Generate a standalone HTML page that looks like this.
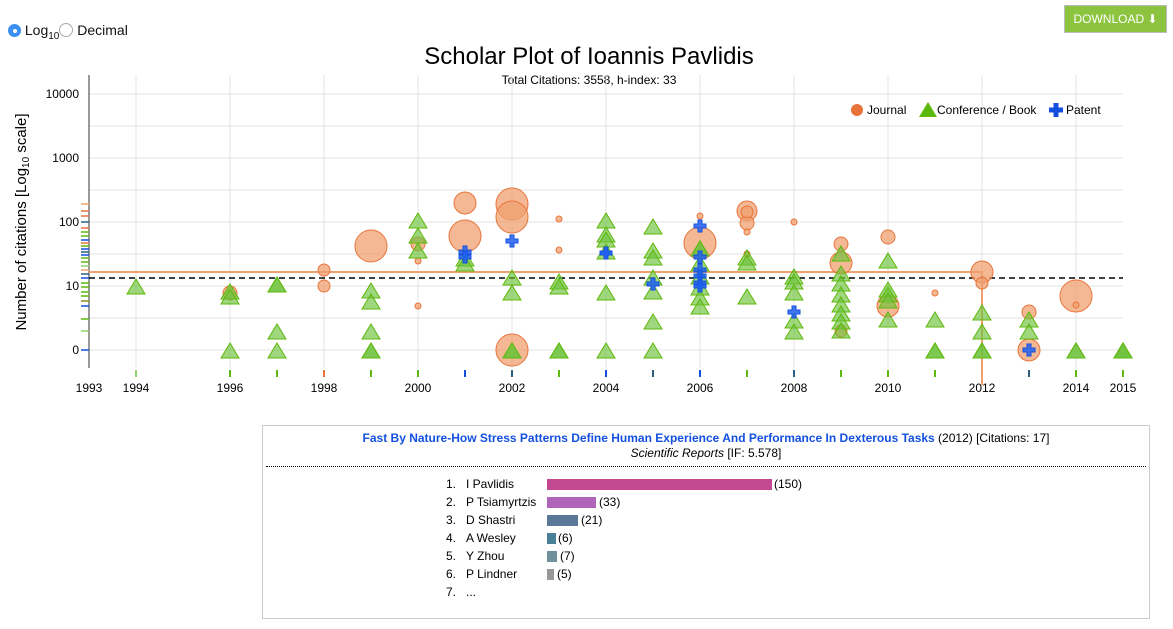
<!DOCTYPE html>
<html><head><meta charset="utf-8"><style>
body{margin:0;width:1173px;height:629px;background:#fff;font-family:"Liberation Sans",Arial,sans-serif;position:relative;overflow:hidden}
.abs{position:absolute;white-space:nowrap}
</style></head><body>
<div class="abs" style="left:8px;top:22px;font-size:14px;color:#111">
<span style="display:inline-block;width:13px;height:13px;border-radius:50%;background:#3b8ff0;vertical-align:-2px;position:relative"><span style="position:absolute;left:4.5px;top:4.5px;width:4px;height:4px;border-radius:50%;background:#fff"></span></span> Log<sub style="font-size:10px">10</sub><span style="display:inline-block;width:12px;height:12px;border-radius:50%;border:1px solid #aaa;vertical-align:-2px"></span> Decimal</div>
<div class="abs" style="left:1064px;top:5px;width:101px;height:26px;background:#8cc43f;border:1px solid #bbb;color:#fff;font-size:12px;line-height:26px;text-align:center">DOWNLOAD ⬇</div>
<svg class="abs" style="left:0;top:0" width="1173" height="420" xmlns="http://www.w3.org/2000/svg" font-family="Liberation Sans, Arial, sans-serif">
<text x="589" y="64" font-size="24" text-anchor="middle" fill="#000">Scholar Plot of Ioannis Pavlidis</text>
<text x="589" y="84" font-size="12" text-anchor="middle" fill="#000">Total Citations: 3558, h-index: 33</text>
<g stroke="#e3e3e3" stroke-width="1">
<line x1="89" x2="1123" y1="94" y2="94"/><line x1="89" x2="1123" y1="126" y2="126"/><line x1="89" x2="1123" y1="158" y2="158"/><line x1="89" x2="1123" y1="190" y2="190"/><line x1="89" x2="1123" y1="222" y2="222"/><line x1="89" x2="1123" y1="254" y2="254"/><line x1="89" x2="1123" y1="286" y2="286"/><line x1="89" x2="1123" y1="318" y2="318"/><line x1="89" x2="1123" y1="350" y2="350"/>
<line x1="136" x2="136" y1="75" y2="368"/><line x1="230" x2="230" y1="75" y2="368"/><line x1="324" x2="324" y1="75" y2="368"/><line x1="418" x2="418" y1="75" y2="368"/><line x1="512" x2="512" y1="75" y2="368"/><line x1="606" x2="606" y1="75" y2="368"/><line x1="700" x2="700" y1="75" y2="368"/><line x1="794" x2="794" y1="75" y2="368"/><line x1="888" x2="888" y1="75" y2="368"/><line x1="982" x2="982" y1="75" y2="368"/><line x1="1076" x2="1076" y1="75" y2="368"/>
</g>
<line x1="89" x2="89" y1="75" y2="368" stroke="#333"/>
<g font-size="12" text-anchor="end" fill="#000"><text x="79" y="98">10000</text><text x="79" y="162">1000</text><text x="79" y="226">100</text><text x="79" y="290">10</text><text x="79" y="354">0</text></g>
<text transform="translate(26,222) rotate(-90)" font-size="15" text-anchor="middle">Number of citations [Log<tspan font-size="10" dy="3">10</tspan><tspan dy="-3"> scale]</tspan></text>
<g font-size="12" text-anchor="middle"><text x="89" y="392">1993</text><text x="136" y="392">1994</text><text x="230" y="392">1996</text><text x="324" y="392">1998</text><text x="418" y="392">2000</text><text x="512" y="392">2002</text><text x="606" y="392">2004</text><text x="700" y="392">2006</text><text x="794" y="392">2008</text><text x="888" y="392">2010</text><text x="982" y="392">2012</text><text x="1076" y="392">2014</text><text x="1123" y="392">2015</text></g>
<g stroke-width="2">
<line x1="136" x2="136" y1="370" y2="377" stroke="#8fd36a"/><line x1="230" x2="230" y1="370" y2="377" stroke="#5cb80a"/><line x1="277" x2="277" y1="370" y2="377" stroke="#5cb80a"/><line x1="324" x2="324" y1="370" y2="377" stroke="#e8743b"/><line x1="371" x2="371" y1="370" y2="377" stroke="#5cb80a"/><line x1="418" x2="418" y1="370" y2="377" stroke="#5cb80a"/><line x1="465" x2="465" y1="370" y2="377" stroke="#1450e0"/><line x1="512" x2="512" y1="370" y2="377" stroke="#2a6080"/><line x1="559" x2="559" y1="370" y2="377" stroke="#5cb80a"/><line x1="606" x2="606" y1="370" y2="377" stroke="#1450e0"/><line x1="653" x2="653" y1="370" y2="377" stroke="#2a6080"/><line x1="700" x2="700" y1="370" y2="377" stroke="#1450e0"/><line x1="747" x2="747" y1="370" y2="377" stroke="#5cb80a"/><line x1="794" x2="794" y1="370" y2="377" stroke="#2a6080"/><line x1="841" x2="841" y1="370" y2="377" stroke="#5cb80a"/><line x1="888" x2="888" y1="370" y2="377" stroke="#5cb80a"/><line x1="935" x2="935" y1="370" y2="377" stroke="#5cb80a"/><line x1="982" x2="982" y1="370" y2="377" stroke="#5cb80a"/><line x1="1029" x2="1029" y1="370" y2="377" stroke="#2a6080"/><line x1="1076" x2="1076" y1="370" y2="377" stroke="#5cb80a"/><line x1="1123" x2="1123" y1="370" y2="377" stroke="#5cb80a"/>
</g>
<g stroke-width="1.5">
<line x1="81" x2="89" y1="204" y2="204" stroke="#f0a070"/><line x1="81" x2="89" y1="211" y2="211" stroke="#e8743b"/><line x1="81" x2="89" y1="216" y2="216" stroke="#e8743b"/><line x1="81" x2="89" y1="222" y2="222" stroke="#2a6080"/><line x1="81" x2="89" y1="228" y2="228" stroke="#e8743b"/><line x1="81" x2="89" y1="232" y2="232" stroke="#5cb80a"/><line x1="81" x2="89" y1="236" y2="236" stroke="#5cb80a"/><line x1="81" x2="89" y1="240" y2="240" stroke="#1450e0"/><line x1="81" x2="89" y1="243" y2="243" stroke="#e8743b"/><line x1="81" x2="89" y1="246" y2="246" stroke="#5cb80a"/><line x1="81" x2="89" y1="249" y2="249" stroke="#1450e0"/><line x1="81" x2="89" y1="252" y2="252" stroke="#2a6080"/><line x1="81" x2="89" y1="255" y2="255" stroke="#1450e0"/><line x1="81" x2="89" y1="258" y2="258" stroke="#5cb80a"/><line x1="81" x2="89" y1="262" y2="262" stroke="#5cb80a"/><line x1="81" x2="89" y1="266" y2="266" stroke="#8fd36a"/><line x1="81" x2="89" y1="270" y2="270" stroke="#f0a070"/><line x1="81" x2="89" y1="274" y2="274" stroke="#2a6080"/><line x1="81" x2="89" y1="278" y2="278" stroke="#1450e0"/><line x1="81" x2="89" y1="283" y2="283" stroke="#5cb80a"/><line x1="81" x2="89" y1="287" y2="287" stroke="#5cb80a"/><line x1="81" x2="89" y1="292" y2="292" stroke="#5cb80a"/><line x1="81" x2="89" y1="296" y2="296" stroke="#5cb80a"/><line x1="81" x2="89" y1="301" y2="301" stroke="#8a8a20"/><line x1="81" x2="89" y1="306" y2="306" stroke="#1450e0"/><line x1="81" x2="89" y1="319" y2="319" stroke="#5cb80a"/><line x1="81" x2="89" y1="331" y2="331" stroke="#8fd36a"/><line x1="81" x2="89" y1="350" y2="350" stroke="#1450e0"/>
</g>
<polyline points="89,272 982,272 982,385" fill="none" stroke="#f0a070" stroke-width="2"/>
<line x1="89" x2="1123" y1="278" y2="278" stroke="#000" stroke-width="1.5" stroke-dasharray="6,4"/>
<g fill="#f0a070" fill-opacity="0.75" stroke="#e8743b">
<circle cx="230" cy="293" r="7"/><circle cx="324" cy="270" r="6"/><circle cx="324" cy="286" r="6"/><circle cx="371" cy="246" r="16"/><circle cx="418" cy="244" r="7"/><circle cx="418" cy="261" r="3"/><circle cx="418" cy="306" r="3"/><circle cx="465" cy="203" r="11"/><circle cx="465" cy="236" r="16"/><circle cx="512" cy="204" r="16"/><circle cx="512" cy="217" r="16"/><circle cx="512" cy="350" r="16"/><circle cx="559" cy="219" r="3"/><circle cx="559" cy="250" r="3"/><circle cx="700" cy="243" r="16"/><circle cx="700" cy="216" r="3"/><circle cx="747" cy="211" r="10"/><circle cx="747" cy="223" r="7"/><circle cx="747" cy="232" r="3"/><circle cx="747" cy="254" r="3"/><circle cx="747" cy="212" r="6"/><circle cx="794" cy="222" r="3"/><circle cx="841" cy="244" r="7"/><circle cx="841" cy="263" r="11"/><circle cx="841" cy="331" r="6"/><circle cx="888" cy="237" r="7"/><circle cx="888" cy="306" r="11"/><circle cx="935" cy="293" r="3"/><circle cx="982" cy="272" r="11"/><circle cx="982" cy="283" r="6"/><circle cx="1029" cy="312" r="7"/><circle cx="1029" cy="350" r="11"/><circle cx="1076" cy="296" r="16"/><circle cx="1076" cy="305" r="3"/>
</g>
<g fill="#6cc23a" fill-opacity="0.65" stroke="#5cb80a" stroke-width="1">
<path d="M0,-8 L9,7 L-9,7 Z" transform="translate(136,287)"/>
<path d="M0,-8 L9,7 L-9,7 Z" transform="translate(230,292)"/><path d="M0,-8 L9,7 L-9,7 Z" transform="translate(230,297)"/><path d="M0,-8 L9,7 L-9,7 Z" transform="translate(230,351)"/>
<path d="M0,-8 L9,7 L-9,7 Z" transform="translate(277,285)"/><path d="M0,-8 L9,7 L-9,7 Z" transform="translate(277,285)"/><path d="M0,-8 L9,7 L-9,7 Z" transform="translate(277,332)"/><path d="M0,-8 L9,7 L-9,7 Z" transform="translate(277,351)"/>
<path d="M0,-8 L9,7 L-9,7 Z" transform="translate(371,291)"/><path d="M0,-8 L9,7 L-9,7 Z" transform="translate(371,302)"/><path d="M0,-8 L9,7 L-9,7 Z" transform="translate(371,332)"/><path d="M0,-8 L9,7 L-9,7 Z" transform="translate(371,351)"/><path d="M0,-8 L9,7 L-9,7 Z" transform="translate(371,351)"/>
<path d="M0,-8 L9,7 L-9,7 Z" transform="translate(418,221)"/><path d="M0,-8 L9,7 L-9,7 Z" transform="translate(418,236)"/><path d="M0,-8 L9,7 L-9,7 Z" transform="translate(418,251)"/>
<path d="M0,-8 L9,7 L-9,7 Z" transform="translate(465,259)"/><path d="M0,-8 L9,7 L-9,7 Z" transform="translate(465,264)"/>
<path d="M0,-8 L9,7 L-9,7 Z" transform="translate(512,278)"/><path d="M0,-8 L9,7 L-9,7 Z" transform="translate(512,293)"/><path d="M0,-8 L9,7 L-9,7 Z" transform="translate(512,351)"/><path d="M0,-8 L9,7 L-9,7 Z" transform="translate(512,351)"/>
<path d="M0,-8 L9,7 L-9,7 Z" transform="translate(559,282)"/><path d="M0,-8 L9,7 L-9,7 Z" transform="translate(559,287)"/><path d="M0,-8 L9,7 L-9,7 Z" transform="translate(559,351)"/><path d="M0,-8 L9,7 L-9,7 Z" transform="translate(559,351)"/>
<path d="M0,-8 L9,7 L-9,7 Z" transform="translate(606,221)"/><path d="M0,-8 L9,7 L-9,7 Z" transform="translate(606,235)"/><path d="M0,-8 L9,7 L-9,7 Z" transform="translate(606,240)"/><path d="M0,-8 L9,7 L-9,7 Z" transform="translate(606,252)"/><path d="M0,-8 L9,7 L-9,7 Z" transform="translate(606,293)"/><path d="M0,-8 L9,7 L-9,7 Z" transform="translate(606,351)"/>
<path d="M0,-8 L9,7 L-9,7 Z" transform="translate(653,227)"/><path d="M0,-8 L9,7 L-9,7 Z" transform="translate(653,251)"/><path d="M0,-8 L9,7 L-9,7 Z" transform="translate(653,258)"/><path d="M0,-8 L9,7 L-9,7 Z" transform="translate(653,278)"/><path d="M0,-8 L9,7 L-9,7 Z" transform="translate(653,292)"/><path d="M0,-8 L9,7 L-9,7 Z" transform="translate(653,322)"/><path d="M0,-8 L9,7 L-9,7 Z" transform="translate(653,351)"/>
<path d="M0,-8 L9,7 L-9,7 Z" transform="translate(700,249)"/><path d="M0,-8 L9,7 L-9,7 Z" transform="translate(700,249)"/><path d="M0,-8 L9,7 L-9,7 Z" transform="translate(700,264)"/><path d="M0,-8 L9,7 L-9,7 Z" transform="translate(700,277)"/><path d="M0,-8 L9,7 L-9,7 Z" transform="translate(700,288)"/><path d="M0,-8 L9,7 L-9,7 Z" transform="translate(700,298)"/><path d="M0,-8 L9,7 L-9,7 Z" transform="translate(700,307)"/>
<path d="M0,-8 L9,7 L-9,7 Z" transform="translate(747,258)"/><path d="M0,-8 L9,7 L-9,7 Z" transform="translate(747,263)"/><path d="M0,-8 L9,7 L-9,7 Z" transform="translate(747,297)"/>
<path d="M0,-8 L9,7 L-9,7 Z" transform="translate(794,277)"/><path d="M0,-8 L9,7 L-9,7 Z" transform="translate(794,282)"/><path d="M0,-8 L9,7 L-9,7 Z" transform="translate(794,293)"/><path d="M0,-8 L9,7 L-9,7 Z" transform="translate(794,321)"/><path d="M0,-8 L9,7 L-9,7 Z" transform="translate(794,332)"/>
<path d="M0,-8 L9,7 L-9,7 Z" transform="translate(841,254)"/><path d="M0,-8 L9,7 L-9,7 Z" transform="translate(841,274)"/><path d="M0,-8 L9,7 L-9,7 Z" transform="translate(841,284)"/><path d="M0,-8 L9,7 L-9,7 Z" transform="translate(841,295)"/><path d="M0,-8 L9,7 L-9,7 Z" transform="translate(841,305)"/><path d="M0,-8 L9,7 L-9,7 Z" transform="translate(841,314)"/><path d="M0,-8 L9,7 L-9,7 Z" transform="translate(841,322)"/><path d="M0,-8 L9,7 L-9,7 Z" transform="translate(841,331)"/>
<path d="M0,-8 L9,7 L-9,7 Z" transform="translate(888,261)"/><path d="M0,-8 L9,7 L-9,7 Z" transform="translate(888,290)"/><path d="M0,-8 L9,7 L-9,7 Z" transform="translate(888,295)"/><path d="M0,-8 L9,7 L-9,7 Z" transform="translate(888,301)"/><path d="M0,-8 L9,7 L-9,7 Z" transform="translate(888,320)"/>
<path d="M0,-8 L9,7 L-9,7 Z" transform="translate(935,320)"/><path d="M0,-8 L9,7 L-9,7 Z" transform="translate(935,351)"/><path d="M0,-8 L9,7 L-9,7 Z" transform="translate(935,351)"/>
<path d="M0,-8 L9,7 L-9,7 Z" transform="translate(982,313)"/><path d="M0,-8 L9,7 L-9,7 Z" transform="translate(982,332)"/><path d="M0,-8 L9,7 L-9,7 Z" transform="translate(982,351)"/><path d="M0,-8 L9,7 L-9,7 Z" transform="translate(982,351)"/>
<path d="M0,-8 L9,7 L-9,7 Z" transform="translate(1029,320)"/><path d="M0,-8 L9,7 L-9,7 Z" transform="translate(1029,332)"/>
<path d="M0,-8 L9,7 L-9,7 Z" transform="translate(1076,351)"/><path d="M0,-8 L9,7 L-9,7 Z" transform="translate(1076,351)"/>
<path d="M0,-8 L9,7 L-9,7 Z" transform="translate(1123,351)"/><path d="M0,-8 L9,7 L-9,7 Z" transform="translate(1123,351)"/><path d="M0,-8 L9,7 L-9,7 Z" transform="translate(1123,351)"/>
</g>
<g fill="#2060f0" fill-opacity="0.85" stroke="#1450e0">
<path d="M-2,-6h4v4h4v4h-4v4h-4v-4h-4v-4h4z" transform="translate(465,252)"/><path d="M-2,-6h4v4h4v4h-4v4h-4v-4h-4v-4h4z" transform="translate(465,257)"/><path d="M-2,-6h4v4h4v4h-4v4h-4v-4h-4v-4h4z" transform="translate(512,241)"/><path d="M-2,-6h4v4h4v4h-4v4h-4v-4h-4v-4h4z" transform="translate(606,253)"/><path d="M-2,-6h4v4h4v4h-4v4h-4v-4h-4v-4h4z" transform="translate(606,253)"/><path d="M-2,-6h4v4h4v4h-4v4h-4v-4h-4v-4h4z" transform="translate(653,284)"/><path d="M-2,-6h4v4h4v4h-4v4h-4v-4h-4v-4h4z" transform="translate(700,226)"/><path d="M-2,-6h4v4h4v4h-4v4h-4v-4h-4v-4h4z" transform="translate(700,257)"/><path d="M-2,-6h4v4h4v4h-4v4h-4v-4h-4v-4h4z" transform="translate(700,270)"/><path d="M-2,-6h4v4h4v4h-4v4h-4v-4h-4v-4h4z" transform="translate(700,276)"/><path d="M-2,-6h4v4h4v4h-4v4h-4v-4h-4v-4h4z" transform="translate(700,283)"/><path d="M-2,-6h4v4h4v4h-4v4h-4v-4h-4v-4h4z" transform="translate(700,286)"/><path d="M-2,-6h4v4h4v4h-4v4h-4v-4h-4v-4h4z" transform="translate(794,312)"/><path d="M-2,-6h4v4h4v4h-4v4h-4v-4h-4v-4h4z" transform="translate(1029,350)"/>
</g>
<g font-size="12" fill="#000">
<circle cx="857" cy="110" r="6" fill="#e8743b"/><text x="867" y="114">Journal</text>
<path d="M928,102 L937,117 L919,117 Z" fill="#5cb80a"/><text x="937" y="114">Conference / Book</text>
<path d="M-2.5,-7h5v4.5h4.5v5h-4.5v4.5h-5v-4.5h-4.5v-5h4.5z" transform="translate(1056,110)" fill="#1450e0"/><text x="1066" y="114">Patent</text>
</g>
</svg>
<div class="abs" style="left:262px;top:425px;width:886px;height:192px;border:1px solid #ccc"></div>
<div class="abs" style="left:262px;top:431px;width:888px;text-align:center;font-size:12px;line-height:15px;color:#000"><span style="color:#1450e0;font-weight:bold">Fast By Nature-How Stress Patterns Define Human Experience And Performance In Dexterous Tasks</span> (2012) [Citations: 17]<br><i>Scientific Reports</i> [IF: 5.578]</div>
<div class="abs" style="left:266px;top:466px;width:880px;border-top:1px dotted #000"></div>
<div class="abs" style="left:0;top:0;font-size:12px;color:#000">
<div class="abs" style="left:440px;top:477px;width:16px;text-align:right">1.</div><div class="abs" style="left:466px;top:477px">I Pavlidis</div><div class="abs" style="left:547px;top:479px;width:225px;height:11px;background:#c44890"></div><div class="abs" style="left:774px;top:477px">(150)</div>
<div class="abs" style="left:440px;top:495px;width:16px;text-align:right">2.</div><div class="abs" style="left:466px;top:495px">P Tsiamyrtzis</div><div class="abs" style="left:547px;top:497px;width:49px;height:11px;background:#b065b8"></div><div class="abs" style="left:599px;top:495px">(33)</div>
<div class="abs" style="left:440px;top:513px;width:16px;text-align:right">3.</div><div class="abs" style="left:466px;top:513px">D Shastri</div><div class="abs" style="left:547px;top:515px;width:31px;height:11px;background:#5a7898"></div><div class="abs" style="left:581px;top:513px">(21)</div>
<div class="abs" style="left:440px;top:531px;width:16px;text-align:right">4.</div><div class="abs" style="left:466px;top:531px">A Wesley</div><div class="abs" style="left:547px;top:533px;width:9px;height:11px;background:#4a7f98"></div><div class="abs" style="left:558px;top:531px">(6)</div>
<div class="abs" style="left:440px;top:549px;width:16px;text-align:right">5.</div><div class="abs" style="left:466px;top:549px">Y Zhou</div><div class="abs" style="left:547px;top:551px;width:10px;height:11px;background:#70909c"></div><div class="abs" style="left:560px;top:549px">(7)</div>
<div class="abs" style="left:440px;top:567px;width:16px;text-align:right">6.</div><div class="abs" style="left:466px;top:567px">P Lindner</div><div class="abs" style="left:547px;top:569px;width:7px;height:11px;background:#999"></div><div class="abs" style="left:557px;top:567px">(5)</div>
<div class="abs" style="left:440px;top:585px;width:16px;text-align:right">7.</div><div class="abs" style="left:466px;top:585px">...</div>
</div>
</body></html>
